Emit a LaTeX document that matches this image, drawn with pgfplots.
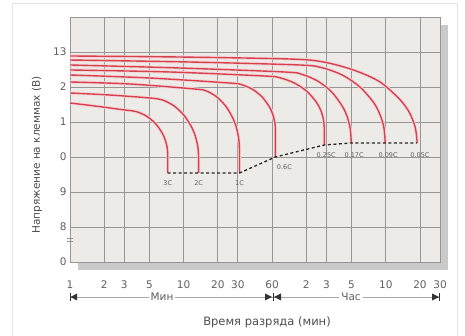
\documentclass[border=0pt]{standalone}
\usepackage{fontspec}
\setmainfont{DejaVu Sans}
\usepackage{pgfplots}
\pgfplotsset{compat=1.18}
\definecolor{bgc}{RGB}{237,235,231}
\definecolor{gridc}{RGB}{150,150,150}
\definecolor{curve}{RGB}{212,66,80}
\definecolor{shadowc}{RGB}{202,202,202}
\definecolor{txt}{RGB}{95,95,95}
\pgfplotsset{crv/.style={curve, line width=1.4pt, smooth, no markers, preaction={draw, curve!22, line width=3.2pt}}}
\begin{document}
\begin{tikzpicture}[x=1pt,y=1pt]
\useasboundingbox (-70,-74) rectangle (395,262);
\draw[black!10, line width=0.8pt] (-58,-74) -- (-58,259) -- (387,259) -- (387,-74);
\fill[shadowc] (8,-8) rectangle (378,237);
\begin{axis}[at={(0,0)}, anchor=south west, scale only axis, width=370pt, height=245pt,
 xmode=log, xmin=1, xmax=1800, ymin=7, ymax=14,
 axis background/.style={fill=bgc},
 axis line style={gridc, line width=0.8pt},
 grid=major, major grid style={gridc, line width=0.8pt},
 major tick length=0pt,
 xtick={1,2,3,5,10,20,30,60,120,180,300,600,1200,1800},
 xticklabels={1,2,3,5,10,20,30,60,2,3,5,10,20,30},
 ytick={7,8,9,10,11,12,13}, yticklabels={0,8,9,0,1,2,13},
 tick label style={font=\fontsize{10.5}{12}\selectfont, text=txt},
 xticklabel style={anchor=center, yshift=-23pt},
 clip=false,
]
% 3C
\addplot[crv] coordinates {(1,11.543)(1.657,11.457)(3.037,11.343)(3.80,11.3)(4.69,11.171)(5.61,10.966)(6.44,10.7)(6.87,10.497)(7.15,10.28)(7.24,10.057)(7.24,9.543)};
% 2C
\addplot[crv] coordinates {(1,11.829)(2.243,11.771)(5.03,11.686)(6.51,11.629)(8.25,11.457)(10.12,11.183)(11.85,10.829)(12.77,10.557)(13.35,10.269)(13.54,9.971)(13.54,9.543)};
% 1C
\addplot[crv] coordinates {(1,12.143)(3.36,12.086)(12.49,11.943)(15.82,11.889)(19.67,11.709)(23.74,11.431)(27.45,11.071)(29.35,10.797)(30.56,10.503)(30.99,10.2)(30.99,9.543)};
% 0.6C
\addplot[crv] coordinates {(1,12.343)(5.03,12.257)(25.32,12.114)(32.21,12.069)(40.3,11.934)(48.83,11.72)(56.57,11.443)(60.6,11.231)(63.22,11.006)(64.12,10.771)(64.12,10.0)};
% 0.25C
\addplot[crv] coordinates {(1,12.486)(7.54,12.429)(51.35,12.314)(70.22,12.263)(94.1,12.114)(120.9,11.88)(146.8,11.571)(160.5,11.337)(169.4,11.086)(172.5,10.829)(172.5,10.343)};
% 0.17C
\addplot[crv] coordinates {(1,12.629)(9.22,12.543)(76.9,12.429)(109.3,12.363)(151.3,12.169)(200.4,11.86)(248.1,11.457)(274.5,11.151)(291.6,10.823)(297.6,10.486)(297.6,10.4)};
% 0.09C
\addplot[crv] coordinates {(1,12.771)(11.29,12.714)(104.1,12.629)(163.4,12.554)(248.1,12.343)(355.5,12.0)(468.8,11.557)(532.5,11.22)(576.2,10.857)(591.4,10.486)(591.4,10.4)};
% 0.05C
\addplot[crv] coordinates {(1,12.886)(9.22,12.857)(85.1,12.8)(166.4,12.72)(309.9,12.489)(529.3,12.151)(797.5,11.643)(966.3,11.277)(1086.4,10.86)(1128.7,10.486)(1128.7,10.4)};
% end-of-discharge line
\addplot[black!85, line width=1.3pt, no markers, sharp plot, dash pattern=on 3pt off 2.5pt] coordinates {(7.24,9.543)(30.99,9.543)(64.12,10.0)(172.5,10.343)(297.6,10.4)(1128.7,10.4)};
\begin{scope}[every node/.style={font=\fontsize{6.5}{7}\selectfont, text=txt}]
\node at (axis cs:7.24,9.26) {3C};
\node at (axis cs:13.54,9.26) {2C};
\node at (axis cs:30.99,9.26) {1C};
\node at (axis cs:76.9,9.71) {0.6C};
\node at (axis cs:179.6,10.06) {0.25C};
\node at (axis cs:316,10.06) {0.17C};
\node at (axis cs:629,10.06) {0.09C};
\node at (axis cs:1199,10.06) {0.05C};
\end{scope}
\end{axis}
\draw[gridc, line width=0.7pt] (-3,20.5) -- (3,20.5) (-3,23.5) -- (3,23.5);
\node[rotate=90, font=\fontsize{10.5}{12}\selectfont, text=black!70] at (-33,107) {Напряжение на клеммах (В)};
\draw[black!35, line width=0.6pt] (0,-35) -- (370,-35);
\node[fill=white, inner sep=2pt, font=\fontsize{10.5}{12}\selectfont, text=txt] at (92,-35) {Мин};
\node[fill=white, inner sep=2pt, font=\fontsize{10.5}{12}\selectfont, text=txt] at (281,-35) {Час};
\fill[black!80] (0.5,-35) -- (7,-31.5) -- (7,-38.5) -- cycle;
\draw[black!80, line width=0.9pt] (0.4,-31) -- (0.4,-39);
\fill[black!80] (195,-31.5) -- (202,-35) -- (195,-38.5) -- cycle;
\draw[black!80, line width=0.9pt] (203,-31) -- (203,-39);
\fill[black!80] (204,-35) -- (211,-31.5) -- (211,-38.5) -- cycle;
\fill[black!80] (362,-31.5) -- (369,-35) -- (362,-38.5) -- cycle;
\draw[black!80, line width=0.9pt] (369.6,-31) -- (369.6,-39);
\node[font=\fontsize{11.5}{13}\selectfont, text=black!70] at (197,-60) {Время разряда (мин)};
\end{tikzpicture}
\end{document}
